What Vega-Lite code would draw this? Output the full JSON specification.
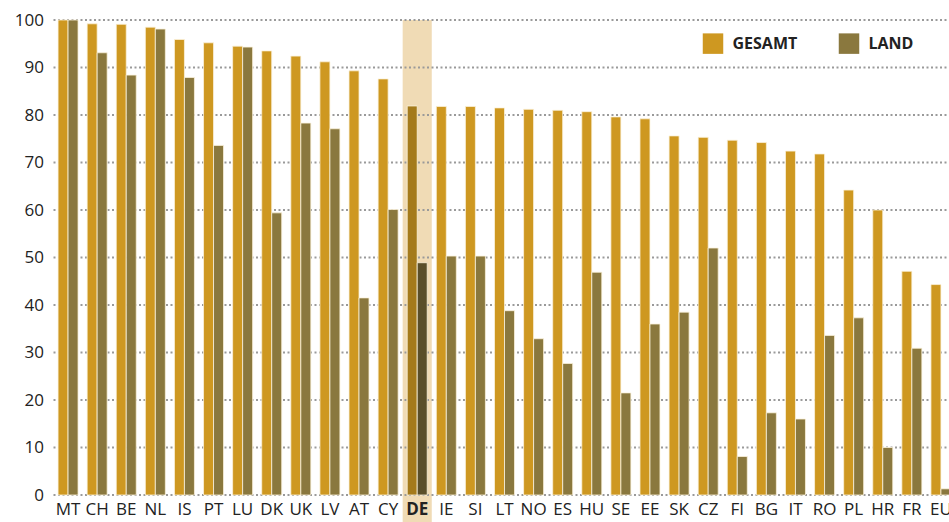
{
  "$schema": "https://vega.github.io/schema/vega-lite/v6.json",
  "width": 902,
  "height": 475,
  "autosize": "none",
  "padding": {"left": 53.5, "top": 20, "right": 0, "bottom": 27},
  "background": "white",
  "datasets": {
    "rates": [
      {"country": "MT", "GESAMT": 100, "LAND": 100},
      {"country": "CH", "GESAMT": 99.2, "LAND": 93.1},
      {"country": "BE", "GESAMT": 99.1, "LAND": 88.4},
      {"country": "NL", "GESAMT": 98.5, "LAND": 98.1},
      {"country": "IS", "GESAMT": 95.9, "LAND": 87.9},
      {"country": "PT", "GESAMT": 95.2, "LAND": 73.6},
      {"country": "LU", "GESAMT": 94.5, "LAND": 94.3},
      {"country": "DK", "GESAMT": 93.5, "LAND": 59.4},
      {"country": "UK", "GESAMT": 92.4, "LAND": 78.3},
      {"country": "LV", "GESAMT": 91.2, "LAND": 77.1},
      {"country": "AT", "GESAMT": 89.3, "LAND": 41.5},
      {"country": "CY", "GESAMT": 87.6, "LAND": 60.1},
      {"country": "DE", "GESAMT": 81.9, "LAND": 48.9},
      {"country": "IE", "GESAMT": 81.8, "LAND": 50.3},
      {"country": "SI", "GESAMT": 81.8, "LAND": 50.3},
      {"country": "LT", "GESAMT": 81.5, "LAND": 38.8},
      {"country": "NO", "GESAMT": 81.2, "LAND": 32.9},
      {"country": "ES", "GESAMT": 81.0, "LAND": 27.7},
      {"country": "HU", "GESAMT": 80.7, "LAND": 46.9},
      {"country": "SE", "GESAMT": 79.6, "LAND": 21.5},
      {"country": "EE", "GESAMT": 79.2, "LAND": 36.0},
      {"country": "SK", "GESAMT": 75.6, "LAND": 38.5},
      {"country": "CZ", "GESAMT": 75.3, "LAND": 52.0},
      {"country": "FI", "GESAMT": 74.7, "LAND": 8.1},
      {"country": "BG", "GESAMT": 74.2, "LAND": 17.3},
      {"country": "IT", "GESAMT": 72.4, "LAND": 16.0},
      {"country": "RO", "GESAMT": 71.8, "LAND": 33.6},
      {"country": "PL", "GESAMT": 64.2, "LAND": 37.3},
      {"country": "HR", "GESAMT": 60.0, "LAND": 10.0},
      {"country": "FR", "GESAMT": 47.1, "LAND": 30.9},
      {"country": "EU", "GESAMT": 44.3, "LAND": 1.3}
    ],
    "band": [{"country": "DE", "top": 100, "bottom": -6}],
    "grid": [{"v": 0}, {"v": 10}, {"v": 20}, {"v": 30}, {"v": 40}, {"v": 50}, {"v": 60}, {"v": 70}, {"v": 80}, {"v": 90}, {"v": 100}]
  },
  "layer": [
    {
      "data": {"name": "band"},
      "mark": {"type": "bar", "color": "#F0DBB5"},
      "encoding": {
        "x": {
          "field": "country",
          "type": "nominal",
          "sort": null,
          "scale": {
            "domain": ["MT","CH","BE","NL","IS","PT","LU","DK","UK","LV","AT","CY","DE","IE","SI","LT","NO","ES","HU","SE","EE","SK","CZ","FI","BG","IT","RO","PL","HR","FR","EU"],
            "paddingInner": 0,
            "paddingOuter": 0
          },
          "axis": {
            "title": null,
            "labelAngle": 0,
            "domain": false,
            "ticks": false,
            "grid": false,
            "labelPadding": 6,
            "labelFont": "Open Sans",
            "labelFontSize": 17,
            "labelColor": "#222222",
            "labelFontWeight": {"condition": {"test": "datum.value === 'DE'", "value": "bold"}, "value": "normal"},
            "zindex": 2
          }
        },
        "y": {"field": "top", "type": "quantitative", "scale": {"domain": [0, 100], "nice": false}},
        "y2": {"field": "bottom"}
      }
    },
    {
      "data": {"name": "grid"},
      "mark": {"type": "rule", "color": "#9a9a9a", "strokeWidth": 2, "strokeDash": [2, 2.5]},
      "encoding": {
        "y": {"field": "v", "type": "quantitative"}
      }
    },
    {
      "data": {"name": "rates"},
      "transform": [{"fold": ["GESAMT", "LAND"], "as": ["series", "value"]}],
      "mark": {"type": "bar", "stroke": "#fbf3dc", "strokeWidth": 0.8},
      "encoding": {
        "x": {"field": "country", "type": "nominal", "sort": null},
        "y": {
          "field": "value",
          "type": "quantitative",
          "axis": {
            "title": null,
            "domain": false,
            "ticks": false,
            "grid": false,
            "values": [0, 10, 20, 30, 40, 50, 60, 70, 80, 90, 100],
            "labelPadding": 10,
            "labelFont": "Open Sans",
            "labelFontSize": 17,
            "labelColor": "#222222"
          }
        },
        "xOffset": {"field": "series", "type": "nominal", "scale": {"paddingInner": 0, "paddingOuter": 0.455}},
        "color": {
          "condition": [
            {"test": "datum.country === 'DE' && datum.series === 'GESAMT'", "value": "#A47A1B"},
            {"test": "datum.country === 'DE' && datum.series === 'LAND'", "value": "#5A4F2A"}
          ],
          "field": "series",
          "type": "nominal",
          "scale": {"domain": ["GESAMT", "LAND"], "range": ["#CE9821", "#8A783E"]},
          "legend": {
            "title": null,
            "orient": "none",
            "legendX": 649,
            "legendY": 13,
            "direction": "horizontal",
            "symbolType": "square",
            "symbolSize": 420,
            "symbolStrokeWidth": 0,
            "symbolOpacity": 1,
            "labelFont": "Open Sans",
            "labelFontSize": 16,
            "labelFontWeight": "bold",
            "labelColor": "#222222",
            "labelOffset": 9,
            "columnPadding": 41
          }
        }
      }
    }
  ],
  "config": {
    "view": {"stroke": null}
  }
}
